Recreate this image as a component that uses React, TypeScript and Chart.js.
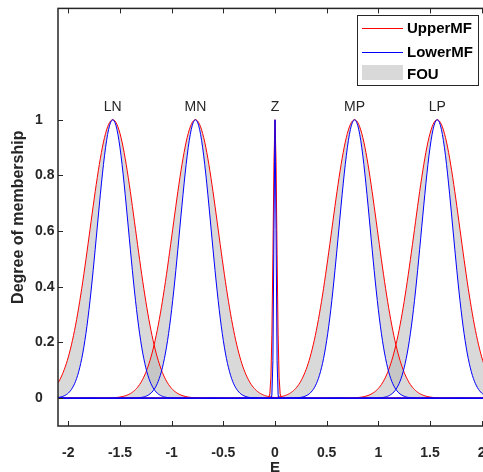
import React, { useEffect, useRef } from "react";
import { Chart, registerables } from "chart.js";

Chart.register(...registerables);

// ---- data ----
const MF_NAMES = ["LN", "MN", "Z", "MP", "LP"];
const MF_CENTERS = [-1.57, -0.77, 0, 0.77, 1.57];
const UPPER_SIGMAS = [0.22, 0.22, 0.0175, 0.22, 0.22];
const LOWER_SIGMAS = [0.152, 0.152, 0.01, 0.152, 0.152];
const X_MIN = -2.1;
const X_MAX = 2.1;
const X_STEP = 0.01;
const Y_MIN = -0.1;
const Y_MAX = 1.4;
const X_TICKS = [-2, -1.5, -1, -0.5, 0, 0.5, 1, 1.5, 2];
const Y_TICKS = [0, 0.2, 0.4, 0.6, 0.8, 1];
const LEGEND_LABELS = ["UpperMF", "LowerMF", "FOU"];
const MF_LABEL_Y = 1.045;

const FONT = "'Liberation Sans', Arial, Helvetica, sans-serif";
const AXIS_COLOR = "#262626";
const UPPER_COLOR = "#ff0000";
const LOWER_COLOR = "#0000ff";
const FOU_COLOR = "rgba(179,179,179,0.5)";

function sampleXs(): number[] {
  const n = Math.round((X_MAX - X_MIN) / X_STEP);
  const xs: number[] = [];
  for (let k = 0; k <= n; k++) xs.push(Math.round((X_MIN + k * X_STEP) * 1000) / 1000);
  return xs;
}

function gauss(x: number, c: number, s: number): number {
  return Math.exp(-((x - c) * (x - c)) / (2 * s * s));
}

const decorPlugin = {
  id: "decor",
  afterDatasetsDraw(chart: any) {
    const { ctx, chartArea: a, scales } = chart;
    const x = scales.x;
    const y = scales.y;
    ctx.save();

    // MF names above peaks
    ctx.fillStyle = AXIS_COLOR;
    ctx.font = `14px ${FONT}`;
    ctx.textAlign = "center";
    ctx.textBaseline = "middle";
    MF_NAMES.forEach((n, i) => {
      ctx.fillText(n, x.getPixelForValue(MF_CENTERS[i]), y.getPixelForValue(MF_LABEL_Y));
    });

    // axes box
    ctx.strokeStyle = AXIS_COLOR;
    ctx.lineWidth = 1.5;
    ctx.strokeRect(a.left, a.top, a.right - a.left, a.bottom - a.top);

    // inward ticks
    ctx.lineWidth = 1;
    const seg = (x1: number, y1: number, x2: number, y2: number) => {
      ctx.beginPath();
      ctx.moveTo(x1, y1);
      ctx.lineTo(x2, y2);
      ctx.stroke();
    };
    X_TICKS.forEach((v) => {
      const px = Math.round(x.getPixelForValue(v)) + 0.5;
      seg(px, a.bottom, px, a.bottom - 5);
      seg(px, a.top, px, a.top + 5);
    });
    Y_TICKS.forEach((v) => {
      const py = Math.round(y.getPixelForValue(v)) + 0.5;
      seg(a.left, py, a.left + 5, py);
      seg(a.right, py, a.right - 5, py);
    });

    // legend box
    const lx = 357.5, ly = 15.5, lw = 121, lh = 70;
    ctx.fillStyle = "#ffffff";
    ctx.fillRect(lx, ly, lw, lh);
    ctx.strokeStyle = AXIS_COLOR;
    ctx.lineWidth = 1;
    ctx.strokeRect(lx, ly, lw, lh);
    ctx.lineWidth = 1;
    ctx.strokeStyle = UPPER_COLOR;
    seg(362, 28.5, 403, 28.5);
    ctx.strokeStyle = LOWER_COLOR;
    seg(362, 52.5, 403, 52.5);
    ctx.fillStyle = FOU_COLOR;
    ctx.fillRect(362, 65, 41, 15);
    ctx.fillStyle = "#000000";
    ctx.font = `bold 15px ${FONT}`;
    ctx.textAlign = "left";
    ctx.textBaseline = "middle";
    ctx.fillText(LEGEND_LABELS[0], 407, 29);
    ctx.fillText(LEGEND_LABELS[1], 407, 53);
    ctx.fillText(LEGEND_LABELS[2], 407, 75);

    ctx.restore();
  },
};

export default function App() {
  const canvasRef = useRef<HTMLCanvasElement | null>(null);

  useEffect(() => {
    const canvas = canvasRef.current;
    if (!canvas) return;
    const xs = sampleXs();
    const datasets: any[] = [];
    MF_NAMES.forEach((name, i) => {
      const upperIndex = datasets.length;
      datasets.push({
        label: `${name} UpperMF`,
        data: xs.map((xv) => ({ x: xv, y: gauss(xv, MF_CENTERS[i], UPPER_SIGMAS[i]) })),
        borderColor: UPPER_COLOR,
        borderWidth: 1,
        pointRadius: 0,
        tension: 0,
        fill: upperIndex + 1,
        backgroundColor: FOU_COLOR,
        order: 1,
      });
      datasets.push({
        label: `${name} LowerMF`,
        data: xs.map((xv) => ({ x: xv, y: gauss(xv, MF_CENTERS[i], LOWER_SIGMAS[i]) })),
        borderColor: LOWER_COLOR,
        borderWidth: 1,
        pointRadius: 0,
        tension: 0,
        fill: false,
        order: 0,
      });
    });

    const tickFont = { family: FONT, size: 14, weight: "bold" as const };
    const chart = new Chart(canvas, {
      type: "line",
      data: { datasets },
      options: {
        responsive: false,
        animation: false,
        devicePixelRatio: 1,
        layout: { padding: { left: 35, top: 8, right: 8, bottom: 0 } },
        plugins: {
          legend: { display: false },
          tooltip: { enabled: false },
          filler: { drawTime: "beforeDatasetsDraw" },
        } as any,
        scales: {
          x: {
            type: "linear",
            min: X_MIN,
            max: X_MAX,
            grid: { display: false },
            border: { display: false },
            afterBuildTicks: (s: any) => {
              s.ticks = X_TICKS.map((v) => ({ value: v }));
            },
            afterFit: (s: any) => {
              s.height = 54;
            },
            ticks: {
              autoSkip: false,
              maxRotation: 0,
              padding: 11,
              color: AXIS_COLOR,
              font: tickFont,
              callback: (v: any) => String(v),
            },
            title: {
              display: true,
              text: "E",
              color: AXIS_COLOR,
              font: { family: FONT, size: 15, weight: "bold" },
              padding: { top: 0, bottom: 3 },
            },
          },
          y: {
            type: "linear",
            min: Y_MIN,
            max: Y_MAX,
            grid: { display: false },
            border: { display: false },
            afterBuildTicks: (s: any) => {
              s.ticks = Y_TICKS.map((v) => ({ value: v }));
            },
            afterFit: (s: any) => {
              s.width = 23;
            },
            ticks: {
              crossAlign: "far",
              padding: 0,
              color: AXIS_COLOR,
              font: tickFont,
              callback: (v: any) => String(v),
            },
            title: {
              display: true,
              text: "Degree of membership",
              color: AXIS_COLOR,
              font: { family: FONT, size: 16, weight: "bold" },
              padding: { top: -26, bottom: 0 },
            },
          },
        } as any,
      },
      plugins: [decorPlugin],
    });
    return () => chart.destroy();
  }, []);

  return (
    <div
      style={{
        position: "fixed",
        left: 0,
        top: 0,
        width: 483,
        height: 472,
        overflow: "hidden",
        background: "#ffffff",
      }}
    >
      <canvas ref={canvasRef} width={500} height={480} style={{ display: "block", width: 500, height: 480 }} />
    </div>
  );
}
